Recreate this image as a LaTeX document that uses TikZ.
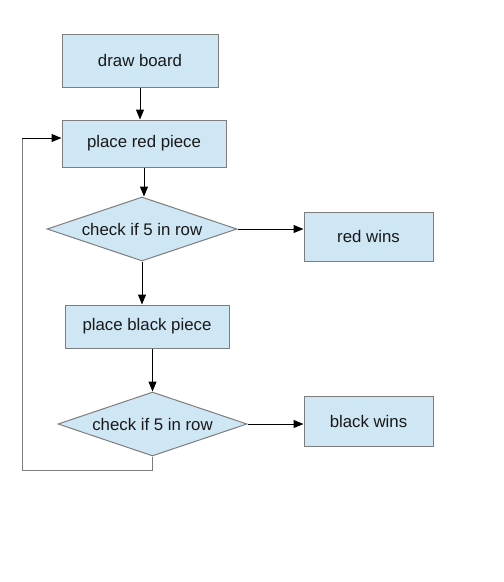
\documentclass[tikz,border=0pt]{standalone}
\usepackage{fontspec}
\setmainfont{Liberation Sans}
\usetikzlibrary{shapes.geometric,arrows.meta,calc}
\definecolor{boxfill}{RGB}{207,230,244}
\definecolor{boxline}{RGB}{125,125,125}
\begin{document}
\begin{tikzpicture}[x=1pt,y=-1pt,
  every node/.style={font=\fontsize{16.8}{20}\selectfont, text=black!90},
  procbox/.style={draw=boxline, fill=boxfill, line width=1pt, rectangle, inner sep=0pt},
  decbox/.style={draw=boxline, fill=boxfill, line width=1pt, diamond, inner sep=0pt, aspect=2.95},
  flow/.style={draw=black, line width=1pt, -{Triangle[length=10pt,width=8pt]}},
  loopline/.style={draw=boxline, line width=1pt}]
\useasboundingbox[fill=white] (0,0) rectangle (504,582);
\node[procbox, minimum width=156pt, minimum height=53pt] (board) at (140,60.5) {draw board};
\node[procbox, minimum width=164pt, minimum height=47pt] (red) at (144,143.5) {place red piece};
\node[decbox, minimum width=190pt, minimum height=64pt] (chk1) at (142,229) {check if 5 in row};
\node[procbox, minimum width=129pt, minimum height=49pt] (redwin) at (368.5,236.5) {red wins};
\node[procbox, minimum width=164pt, minimum height=43pt] (black) at (147,326.5) {place black piece};
\node[decbox, minimum width=189pt, minimum height=64pt] (chk2) at (152.5,424) {check if 5 in row};
\node[procbox, minimum width=129pt, minimum height=50pt] (blackwin) at (368.5,421) {black wins};
\coordinate (loopb) at (22,470);
\coordinate (loopt) at (22,138);
\draw[flow] (board.south) -- (board.south |- red.north);
\draw[flow] (red.south) -- (red.south |- chk1.north);
\draw[flow] (chk1.east) -- (chk1.east -| redwin.west);
\draw[flow] (chk1.south) -- (chk1.south |- black.north);
\draw[flow] (black.south -| chk2.north) -- (chk2.north);
\draw[flow] (chk2.east) -- (chk2.east -| blackwin.west);
\draw[loopline] (chk2.south) |- (loopb) -- (loopt);
\draw[flow] (loopt) -- (loopt -| red.west);
\end{tikzpicture}
\end{document}
